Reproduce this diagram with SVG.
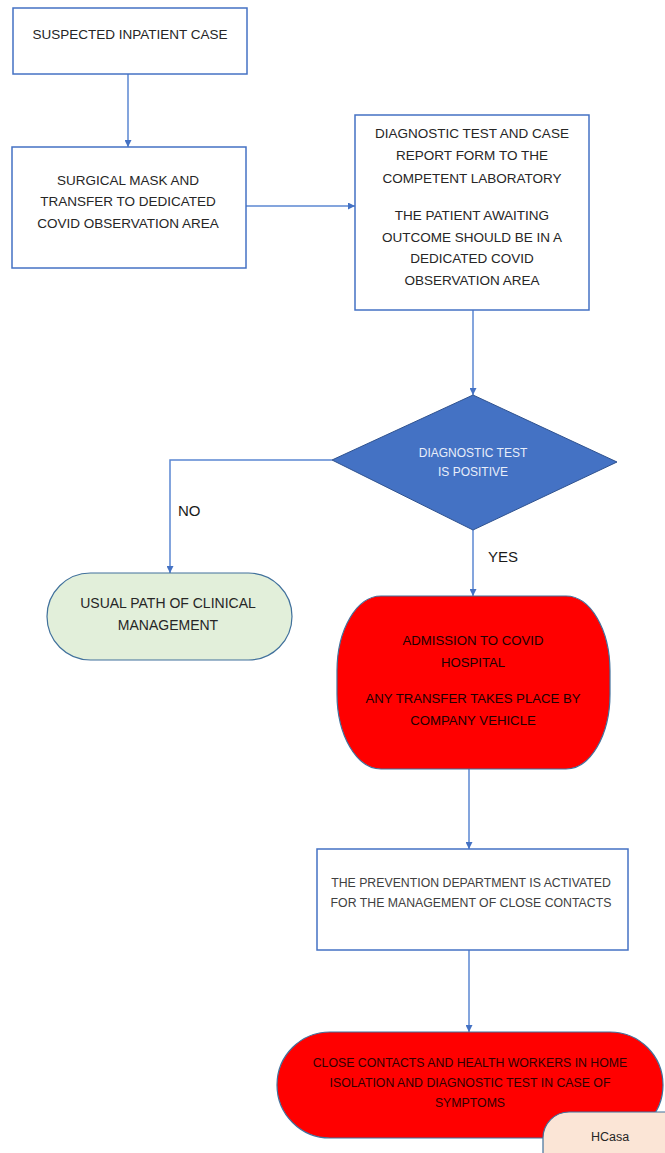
<svg xmlns="http://www.w3.org/2000/svg" width="665" height="1153" viewBox="0 0 665 1153">
  <style>
    .box { fill: #ffffff; stroke: #4472c4; stroke-width: 1.5; }
    .red { fill: #ff0000; stroke: #41719c; stroke-width: 1.2; }
    .green { fill: #e2efda; stroke: #41719c; stroke-width: 1.2; }
    .peach { fill: #fbe5d6; stroke: #41719c; stroke-width: 1.2; }
    .dia { fill: #4472c4; stroke: #2f528f; stroke-width: 1; }
    .t { font-family: "Liberation Sans", Arial, sans-serif; font-size: 13.5px; fill: #262626; text-anchor: middle; }
    .ts { font-family: "Liberation Sans", Arial, sans-serif; font-size: 12.3px; fill: #404040; text-anchor: middle; }
    .tw { font-family: "Liberation Sans", Arial, sans-serif; font-size: 12px; fill: #e8eefa; text-anchor: middle; }
    .tr { font-family: "Liberation Sans", Arial, sans-serif; font-size: 13.2px; fill: #200000; text-anchor: middle; }
    .trs { font-family: "Liberation Sans", Arial, sans-serif; font-size: 12.3px; fill: #300000; text-anchor: middle; }
    .lbl { font-family: "Liberation Sans", Arial, sans-serif; font-size: 15px; fill: #1a1a1a; }
    .conn { fill: none; stroke: #5b87d2; stroke-width: 1.5; marker-end: url(#arrow); }
  </style>
  <defs>
    <marker id="arrow" viewBox="0 0 10 10" refX="10" refY="5" markerWidth="7" markerHeight="7" markerUnits="userSpaceOnUse" orient="auto">
      <path d="M0,0 L10,5 L0,10 z" fill="#4472c4"/>
    </marker>
  </defs>

  <rect width="665" height="1153" fill="#ffffff"/>

  <!-- connectors -->
  <g id="connectors">
    <path class="conn" d="M128,74 V147"/>
    <path class="conn" d="M246,206 H355"/>
    <path class="conn" d="M473,310 V395"/>
    <path class="conn" d="M332,460 H170 V573"/>
    <path class="conn" d="M473,530 V596"/>
    <path class="conn" d="M469,769 V849"/>
    <path class="conn" d="M469,950 V1032"/>
    <text class="lbl" x="178" y="516">NO</text>
    <text class="lbl" x="488" y="562">YES</text>
  </g>

  <g id="suspected-case">
    <rect class="box" x="13" y="8" width="234" height="66"/>
    <text class="t" x="130" y="39">SUSPECTED INPATIENT CASE</text>
  </g>

  <g id="surgical-mask">
    <rect class="box" x="12" y="147" width="234" height="121"/>
    <text class="t" x="128" y="185">SURGICAL MASK AND</text>
    <text class="t" x="128" y="206">TRANSFER TO DEDICATED</text>
    <text class="t" x="128" y="228">COVID OBSERVATION AREA</text>
  </g>

  <g id="diagnostic-test">
    <rect class="box" x="355" y="115" width="234" height="195"/>
    <text class="t" x="472" y="138">DIAGNOSTIC TEST AND CASE</text>
    <text class="t" x="472" y="160">REPORT FORM TO THE</text>
    <text class="t" x="472" y="183">COMPETENT LABORATORY</text>
    <text class="t" x="472" y="220">THE PATIENT AWAITING</text>
    <text class="t" x="472" y="242">OUTCOME SHOULD BE IN A</text>
    <text class="t" x="472" y="263">DEDICATED COVID</text>
    <text class="t" x="472" y="285">OBSERVATION AREA</text>
  </g>

  <g id="test-positive">
    <polygon class="dia" points="473,395 617,462 473,530 332,460"/>
    <text class="tw" x="473" y="457">DIAGNOSTIC TEST</text>
    <text class="tw" x="473" y="476">IS POSITIVE</text>
  </g>

  <g id="usual-path">
    <rect class="green" x="47" y="573" width="245" height="87" rx="43.5" ry="43.5"/>
    <text class="t" x="168" y="608" style="font-size:14px">USUAL PATH OF CLINICAL</text>
    <text class="t" x="168" y="630" style="font-size:14px">MANAGEMENT</text>
  </g>

  <g id="admission">
    <rect class="red" x="337" y="596" width="273" height="173" rx="44" ry="75"/>
    <text class="tr" x="473" y="645">ADMISSION TO COVID</text>
    <text class="tr" x="473" y="667">HOSPITAL</text>
    <text class="tr" x="473" y="703">ANY TRANSFER TAKES PLACE BY</text>
    <text class="tr" x="473" y="725">COMPANY VEHICLE</text>
  </g>

  <g id="prevention">
    <rect class="box" x="317" y="849" width="311" height="101"/>
    <text class="ts" x="471" y="887">THE PREVENTION DEPARTMENT IS ACTIVATED</text>
    <text class="ts" x="471" y="907">FOR THE MANAGEMENT OF CLOSE CONTACTS</text>
  </g>

  <g id="close-contacts">
    <rect class="red" x="277" y="1032" width="386" height="106" rx="53" ry="53"/>
    <text class="trs" x="470" y="1067">CLOSE CONTACTS AND HEALTH WORKERS IN HOME</text>
    <text class="trs" x="470" y="1087">ISOLATION AND DIAGNOSTIC TEST IN CASE OF</text>
    <text class="trs" x="470" y="1107">SYMPTOMS</text>
  </g>

  <g id="hcasa">
    <rect class="peach" x="543" y="1112" width="150" height="70" rx="26" ry="26"/>
    <text class="ts" x="610" y="1141" style="fill:#262626;font-size:12.5px">HCasa</text>
  </g>
</svg>
